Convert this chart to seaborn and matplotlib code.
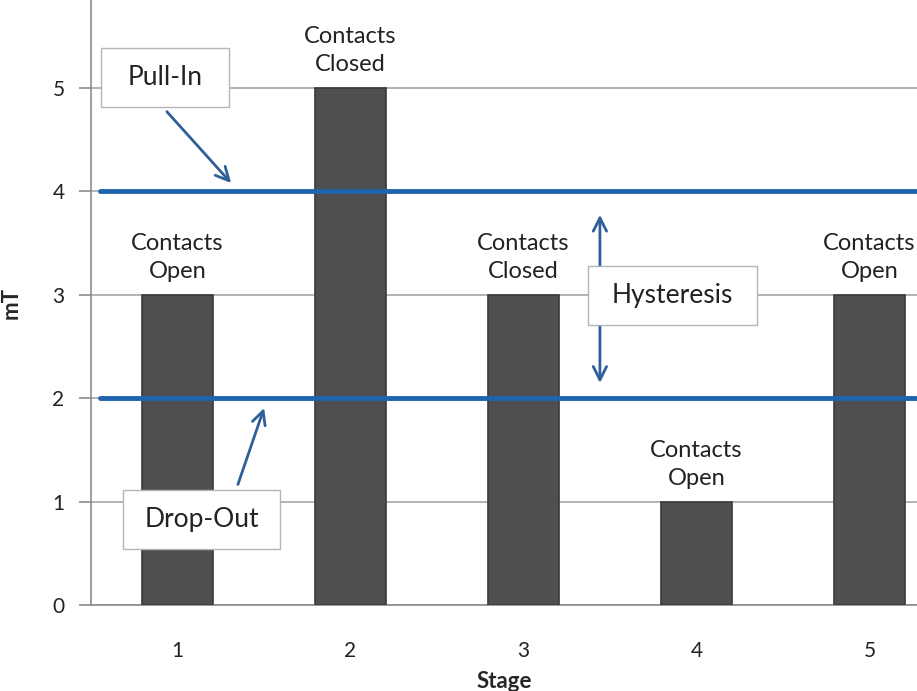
import matplotlib
matplotlib.use("Agg")
import matplotlib.pyplot as plt
import pandas as pd
import seaborn as sns
from matplotlib.patches import Rectangle

# datos
stages = ["1", "2", "3", "4", "5"]
field_mT = [3, 5, 3, 1, 3]
contact_state = ["Contacts\nOpen", "Contacts\nClosed", "Contacts\nClosed",
                 "Contacts\nOpen", "Contacts\nOpen"]
pull_in = 4
drop_out = 2

BAR_COLOR = "#4f4f4f"
LINE_BLUE = "#1f64ad"
ARROW_BLUE = "#2f5f98"
GRID_GRAY = "#a6a6a6"

sns.set_theme(style="white")
plt.rcParams["font.family"] = ["Lato", "DejaVu Sans"]

df = pd.DataFrame({"Stage": stages, "mT": field_mT})

fig = plt.figure(figsize=(9.17, 6.91), dpi=100)
ax = fig.add_axes([91 / 917, 1 - 605 / 691, 1 - 91 / 917, 605 / 691])

sns.barplot(data=df, x="Stage", y="mT", order=stages, color=BAR_COLOR,
            width=0.41, saturation=1, edgecolor="#3a3a3a", linewidth=1.2,
            ax=ax, zorder=3)

# grid y ejes estilo Excel
ax.set_yticks(range(0, 6))
ax.yaxis.grid(True, color=GRID_GRAY, linewidth=1.2, zorder=0)
ax.xaxis.grid(False)
for side in ["top", "right"]:
    ax.spines[side].set_visible(False)
ax.spines["left"].set_color("#8c8c8c")
ax.spines["bottom"].set_color("#8c8c8c")
ax.spines["left"].set_linewidth(1.2)
ax.spines["bottom"].set_linewidth(1.2)

ax.set_xticks(range(len(stages)))
ax.set_xticklabels(stages)
ax.set_xticks([i - 0.5 for i in range(len(stages) + 1)], minor=True)
ax.tick_params(axis="x", which="major", length=0, pad=26, labelsize=15, colors="#222222")
ax.tick_params(axis="x", which="minor", length=9, width=1.2, color="#8c8c8c", direction="out")
ax.tick_params(axis="y", which="major", length=9, width=1.2, color="#8c8c8c",
               direction="out", pad=10, labelsize=15, colors="#222222", left=True)

# los limites despues de los ticks (set_xticks los amplia)
ax.set_xlim(-0.5, 4.275)
ax.set_ylim(0, 5.85)

ax.set_xlabel("Stage", fontsize=16, fontweight="bold", labelpad=7)
ax.set_ylabel("mT", fontsize=16, fontweight="bold", labelpad=22)

# umbrales pull-in y drop-out
ax.axhline(pull_in, xmin=0.011, xmax=1, color=LINE_BLUE, linewidth=3.5, zorder=4)
ax.axhline(drop_out, xmin=0.011, xmax=1, color=LINE_BLUE, linewidth=3.5, zorder=4)

# etiquetas sobre barras
for i, (v, lab) in enumerate(zip(field_mT, contact_state)):
    ax.text(i, v + 0.12, lab, ha="center", va="bottom", fontsize=17,
            color="#222222", linespacing=1.45, zorder=5)

# cajas de anotacion
def note(x0, x1, y0, y1, text):
    ax.add_patch(Rectangle((x0, y0), x1 - x0, y1 - y0, facecolor="white",
                           edgecolor="#b5b5b5", linewidth=1, zorder=6))
    ax.text((x0 + x1) / 2, (y0 + y1) / 2, text, ha="center", va="center",
            fontsize=19, color="#222222", zorder=7)

arrow_kw = dict(arrowstyle="->", color=ARROW_BLUE, lw=2, mutation_scale=24)

ax.annotate("", xy=(0.321, 4.06), xytext=(-0.072, 4.79),
            arrowprops=arrow_kw, zorder=6)
ax.annotate("", xy=(0.506, 1.93), xytext=(0.344, 1.14),
            arrowprops=arrow_kw, zorder=6)
ax.annotate("", xy=(2.442, 3.8), xytext=(2.442, 2.12),
            arrowprops=dict(arrowstyle="<->", color=ARROW_BLUE, lw=2, mutation_scale=24),
            zorder=5)

note(-0.442, 0.298, 4.816, 5.387, "Pull-In")
note(-0.315, 0.592, 0.542, 1.112, "Drop-Out")
note(2.373, 3.350, 2.708, 3.279, "Hysteresis")

fig.savefig("out.png", dpi=100)
